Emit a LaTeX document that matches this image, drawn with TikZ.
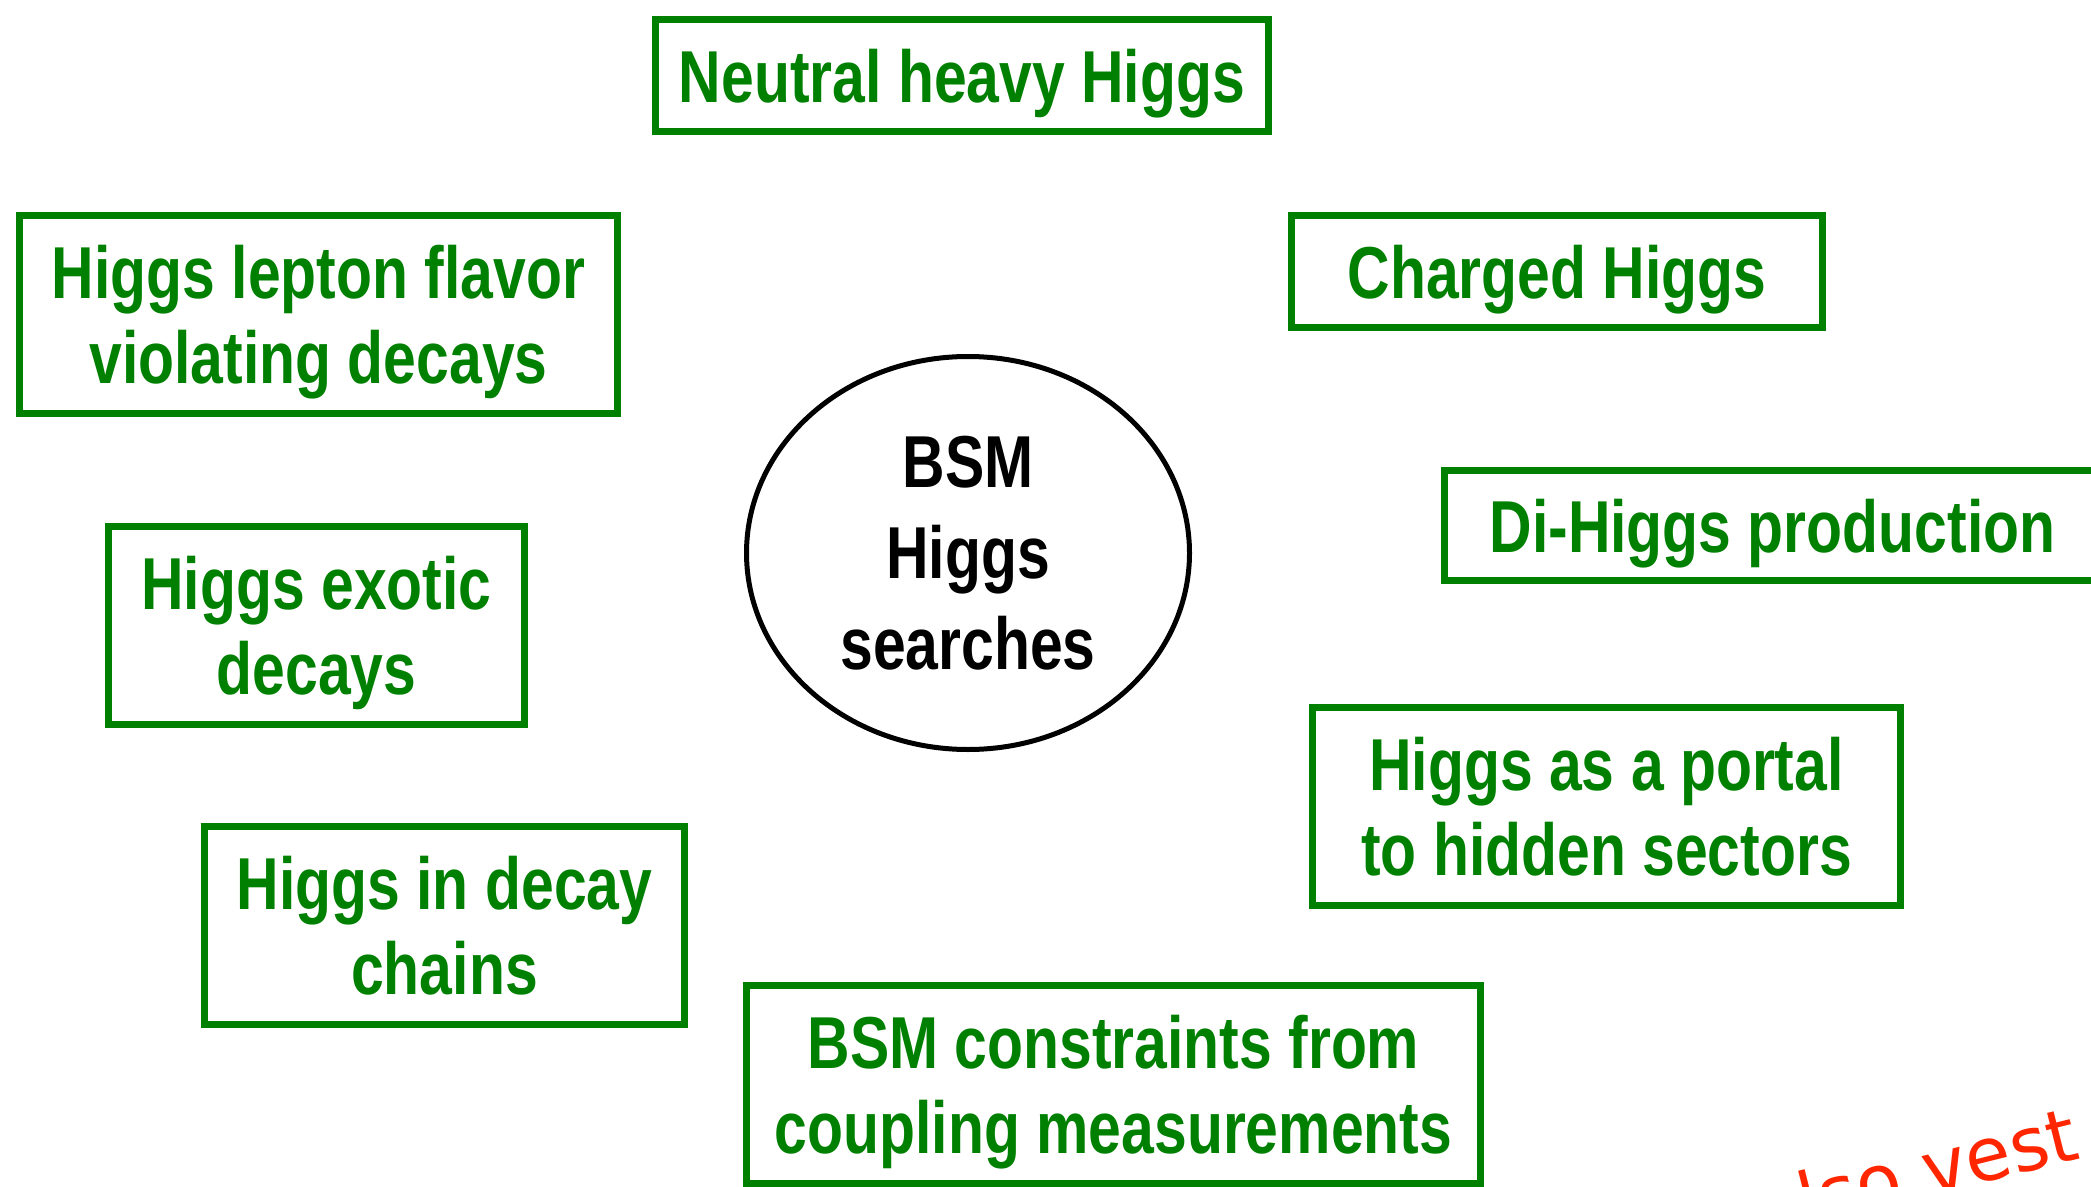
\documentclass[tikz,border=0pt]{standalone}
\usepackage{fontspec}
\setmainfont{Liberation Sans}[FakeStretch=0.8]
\newfontfamily\redfont{DejaVu Sans}
\usetikzlibrary{shapes.geometric}
\definecolor{boxgreen}{RGB}{0,128,0}
\definecolor{notered}{RGB}{255,38,0}
\tikzset{
  topic/.style={draw=boxgreen, line width=3.5pt, rectangle, inner sep=0pt, text depth=0pt,
    align=center, text=boxgreen, font=\fontsize{36.8}{42.5}\selectfont\bfseries},
  centre/.style={draw=black, line width=2.5pt, ellipse, inner sep=0pt, text depth=0pt,
    align=center, text=black, font=\fontsize{36.8}{45.5}\selectfont\bfseries},
  note/.style={text=notered, font=\redfont\fontsize{37}{40}\selectfont, inner sep=0pt}
}
\begin{document}
\begin{tikzpicture}[x=0.5pt,y=-0.5pt]
\useasboundingbox (0,0) rectangle (2091,1187);
\fill[white] (0,0) rectangle (2091,1187);
\node[topic, minimum width=613pt/2, minimum height=112pt/2] (neutral) at (962,75.5) {Neutral heavy Higgs};
\node[topic, minimum width=598pt/2, minimum height=198pt/2] (lfv) at (318.5,314.5) {Higgs lepton flavor\\violating decays};
\node[topic, minimum width=531pt/2, minimum height=112pt/2] (charged) at (1557,271.5) {Charged Higgs};
\node[topic, minimum width=656pt/2, minimum height=110pt/2] (dihiggs) at (1772.5,525.5) {Di-Higgs production};
\node[topic, minimum width=416pt/2, minimum height=198pt/2] (exotic) at (316.5,625.5) {Higgs exotic\\decays};
\node[topic, minimum width=588pt/2, minimum height=198pt/2] (portal) at (1606.5,806.5) {Higgs as a portal\\to hidden sectors};
\node[topic, minimum width=480pt/2, minimum height=198pt/2] (chains) at (444.5,925.5) {Higgs in decay\\chains};
\node[topic, minimum width=734pt/2, minimum height=198pt/2] (constraints) at (1113.5,1084.5) {BSM constraints from\\coupling measurements};
\node[centre, minimum width=443pt/2, minimum height=393pt/2] (bsm) at (968,553) {BSM\\Higgs\\searches};
\node[note, rotate=14, anchor=base east] (also) at (2082,1158) {also vest};
\end{tikzpicture}
\end{document}
